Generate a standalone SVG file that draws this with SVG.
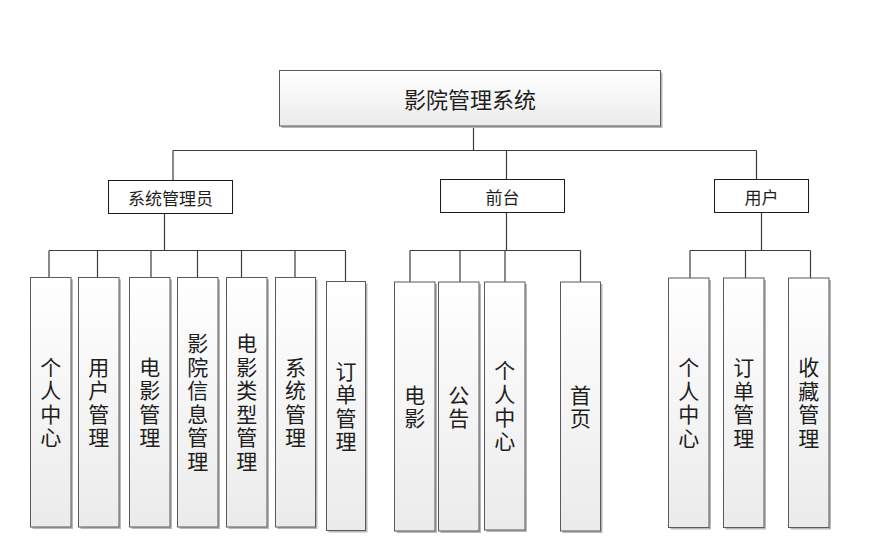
<svg xmlns="http://www.w3.org/2000/svg" width="871" height="551" viewBox="0 0 871 551">
<defs>
<linearGradient id="g" x1="0" y1="0" x2="0" y2="1"><stop offset="0" stop-color="#ffffff"/><stop offset="1" stop-color="#ebebeb"/></linearGradient>
<style>
.bg{fill:#ffffff}
.sh{fill:#b8b8b8}
.gb{fill:url(#g);stroke:#5a5a5a;stroke-width:1}
.pb{fill:#ffffff;stroke:#1a1a1a;stroke-width:1}
.ln{fill:none;stroke:#3c3c3c;stroke-width:1.2}
text{font-family:"Noto Sans CJK SC","Noto Sans",sans-serif;fill:#1e1e1e;text-anchor:middle;dominant-baseline:central}
.t1{font-size:22px}
.t2{font-size:17px}
.t3{font-size:21px;writing-mode:vertical-rl;text-orientation:upright;letter-spacing:2.5px}
</style>
</defs>
<rect class="bg" x="0" y="0" width="871" height="551"/>
<g id="connectors">
<path class="ln" d="M473.5,126 V150.5 M173,150.5 H756.5 M173,150.5 V180 M506.5,150.5 V179 M756.5,150.5 V179"/>
<path class="ln" d="M164.5,213 V250.5 M49,250.5 H345.5 M49,250.5 V277 M97.5,250.5 V277 M151,250.5 V277 M197.5,250.5 V277 M241.5,250.5 V277 M295,250.5 V277 M345.5,250.5 V281"/>
<path class="ln" d="M506.5,213 V250.5 M410,250.5 H580.5 M410,250.5 V282 M460,250.5 V282 M505,250.5 V282 M580.5,250.5 V282"/>
<path class="ln" d="M761.5,213 V250.5 M690,250.5 H810.5 M690,250.5 V278 M745.5,250.5 V278 M810.5,250.5 V278"/>
</g>
<g id="root">
<rect class="sh" x="281.5" y="72.5" width="381" height="55.5"/>
<rect class="gb" x="279.5" y="70.5" width="381" height="55.5"/>
<text class="t1" x="470" y="98">影院管理系统</text>
</g>
<g id="admin">
<rect class="pb" x="108.5" y="180.5" width="124" height="33"/>
<text class="t2" x="170.5" y="197">系统管理员</text>
</g>
<g id="front">
<rect class="pb" x="440.5" y="179.5" width="124" height="33"/>
<text class="t2" x="502.5" y="196">前台</text>
</g>
<g id="user">
<rect class="pb" x="714.5" y="179.5" width="94" height="33"/>
<text class="t2" x="761.5" y="196">用户</text>
</g>
<g id="a1"><rect class="sh" x="32.5" y="279.5" width="40.5" height="249.5"/><rect class="gb" x="30.5" y="277.5" width="40.5" height="249.5"/>
<text class="t3" x="50.7" y="403.2">个人中心</text></g>
<g id="a2"><rect class="sh" x="80.5" y="279.5" width="40.5" height="249.5"/><rect class="gb" x="78.5" y="277.5" width="40.5" height="249.5"/>
<text class="t3" x="98.7" y="403.2">用户管理</text></g>
<g id="a3"><rect class="sh" x="131.5" y="279.5" width="40.5" height="249.5"/><rect class="gb" x="129.5" y="277.5" width="40.5" height="249.5"/>
<text class="t3" x="149.7" y="403.2">电影管理</text></g>
<g id="a4"><rect class="sh" x="179.5" y="279.5" width="40.5" height="249.5"/><rect class="gb" x="177.5" y="277.5" width="40.5" height="249.5"/>
<text class="t3" x="197.7" y="403.2">影院信息管理</text></g>
<g id="a5"><rect class="sh" x="228.5" y="279.5" width="40.5" height="249.5"/><rect class="gb" x="226.5" y="277.5" width="40.5" height="249.5"/>
<text class="t3" x="246.7" y="403.2">电影类型管理</text></g>
<g id="a6"><rect class="sh" x="277.5" y="279.5" width="40" height="249.5"/><rect class="gb" x="275.5" y="277.5" width="40" height="249.5"/>
<text class="t3" x="295.5" y="403.2">系统管理</text></g>
<g id="a7"><rect class="sh" x="328.5" y="283.5" width="39" height="249"/><rect class="gb" x="326.5" y="281.5" width="39" height="249"/>
<text class="t3" x="346" y="407.2">订单管理</text></g>
<g id="f1"><rect class="sh" x="396.5" y="284" width="40.5" height="249"/><rect class="gb" x="394.5" y="282" width="40.5" height="249"/>
<text class="t3" x="414.7" y="408">电影</text></g>
<g id="f2"><rect class="sh" x="440.5" y="284" width="40.5" height="249"/><rect class="gb" x="438.5" y="282" width="40.5" height="249"/>
<text class="t3" x="458.7" y="408">公告</text></g>
<g id="f3"><rect class="sh" x="486.5" y="284" width="40.5" height="248"/><rect class="gb" x="484.5" y="282" width="40.5" height="248"/>
<text class="t3" x="504.7" y="407">个人中心</text></g>
<g id="f4"><rect class="sh" x="562.5" y="284" width="40" height="249"/><rect class="gb" x="560.5" y="282" width="40" height="249"/>
<text class="t3" x="580.5" y="408">首页</text></g>
<g id="u1"><rect class="sh" x="670.5" y="280" width="40.5" height="249.5"/><rect class="gb" x="668.5" y="278" width="40.5" height="249.5"/>
<text class="t3" x="688.7" y="403.7">个人中心</text></g>
<g id="u2"><rect class="sh" x="725.5" y="280" width="40.5" height="249.5"/><rect class="gb" x="723.5" y="278" width="40.5" height="249.5"/>
<text class="t3" x="743.7" y="403.7">订单管理</text></g>
<g id="u3"><rect class="sh" x="790.5" y="280" width="40.5" height="249.5"/><rect class="gb" x="788.5" y="278" width="40.5" height="249.5"/>
<text class="t3" x="808.7" y="403.7">收藏管理</text></g>
</svg>
